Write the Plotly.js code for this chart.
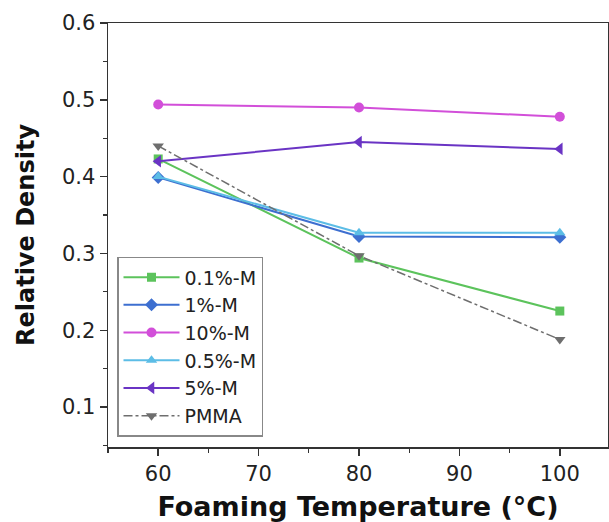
<!DOCTYPE html>
<html>
<head>
<meta charset="utf-8">
<script src="https://cdn.plot.ly/plotly-3.0.1.min.js"></script>
<style>html,body{margin:0;padding:0;background:#fff;}#chart{width:609px;height:522px;}</style>
</head>
<body>
<div id="chart"></div>
<script>
const temperatures = [60, 80, 100];
const seriesNames = ["0.1%-M", "1%-M", "10%-M", "0.5%-M", "5%-M", "PMMA"];
const m01 = [0.423, 0.294, 0.225];
const m1 = [0.399, 0.322, 0.321];
const m10 = [0.494, 0.490, 0.478];
const m05 = [0.400, 0.327, 0.327];
const m5 = [0.420, 0.445, 0.436];
const pmma = [0.440, 0.297, 0.188];
const yTickVals = [0.1, 0.2, 0.3, 0.4, 0.5, 0.6];
const xTickVals = [60, 70, 80, 90, 100];

const values = [m01, m1, m10, m05, m5, pmma];
const colors = ["#5cc35c", "#3d6fd0", "#d24fd9", "#5cbde6", "#6a34c4", "#6e6e6e"];
const symbols = ["square", "diamond", "circle", "triangle-up", "triangle-left", "triangle-down"];
const dashes = ["solid", "solid", "solid", "solid", "solid", "dashdot"];
const msizes = [9, 10, 10, 10, 11, 10];

const traces = seriesNames.map((n, i) => ({
  x: temperatures, y: values[i], name: n, type: "scatter", mode: "lines+markers",
  line: {color: colors[i], width: i === 5 ? 1.5 : 2, dash: dashes[i]},
  marker: {color: colors[i], symbol: symbols[i], size: msizes[i]}
}));

const tickFont = {family: "DejaVu Sans", size: 21, color: "#222"};
const layout = {
  width: 609, height: 522,
  margin: {l: 108, r: 1, t: 23, b: 75},
  paper_bgcolor: "#fff", plot_bgcolor: "#fff",
  showlegend: true,
  legend: {x: 0.018, y: 0.024, xanchor: "left", yanchor: "bottom",
    bgcolor: "#fff", bordercolor: "#888", borderwidth: 1.5,
    itemwidth: 56,
    font: {family: "DejaVu Sans", size: 19, color: "#222"}},
  xaxis: {range: [55, 104.8], tickvals: xTickVals, ticktext: xTickVals.map(String),
    ticks: "outside", ticklen: 7, tickwidth: 1.5, tickcolor: "#333",
    minor: {dtick: 5, tick0: 55, ticks: "outside", ticklen: 4, tickwidth: 1.2, tickcolor: "#333"},
    showline: true, linecolor: "#333", linewidth: 1.5, mirror: true, showgrid: false, zeroline: false,
    tickfont: tickFont,
    title: {text: "Foaming Temperature (°C)", standoff: 14,
      font: {family: "DejaVu Sans", size: 27, color: "#111", weight: "bold"}}},
  yaxis: {range: [0.048, 0.6], tickvals: yTickVals, ticktext: yTickVals.map(v => v.toFixed(1)),
    ticks: "outside", ticklen: 7, tickwidth: 1.5, tickcolor: "#333",
    minor: {dtick: 0.05, tick0: 0.05, ticks: "outside", ticklen: 4, tickwidth: 1.2, tickcolor: "#333"},
    showline: true, linecolor: "#333", linewidth: 1.5, mirror: true, showgrid: false, zeroline: false,
    tickfont: tickFont,
    title: {text: "Relative Density", standoff: 20,
      font: {family: "DejaVu Sans", size: 24, color: "#111", weight: "bold"}}}
};
Plotly.newPlot("chart", traces, layout, {staticPlot: true, displayModeBar: false});
</script>
</body>
</html>
